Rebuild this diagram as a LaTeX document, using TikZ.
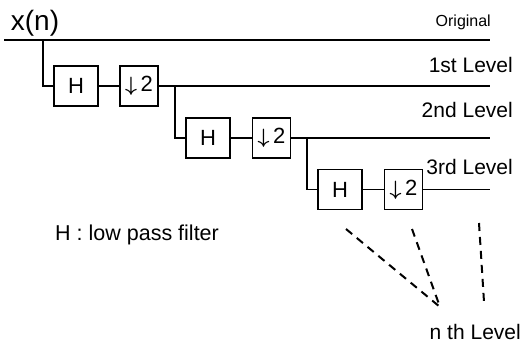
\documentclass[tikz,border=0pt]{standalone}
\usepackage{fontspec}
\setmainfont{Liberation Sans}
\usetikzlibrary{positioning}

\newcommand{\dsamp}{{\boldmath$\downarrow$}\,2}

\begin{document}
\begin{tikzpicture}[x=1pt, y=-1pt,
    filt/.style={draw, line width=1.2pt, minimum width=44pt, minimum height=40pt, inner sep=0pt, font=\fontsize{22}{22}\selectfont},
    dwn/.style={filt, minimum width=38pt},
    sig/.style={line width=1.3pt},
    lvl/.style={anchor=east, inner sep=0pt, font=\fontsize{21}{22}\selectfont},
    guide/.style={line width=2pt, dash pattern=on 8pt off 6pt}
]
\useasboundingbox (0,0) rectangle (526,344);

% === Entrada ===
\node[inner sep=0pt, font=\fontsize{28}{28}\selectfont] (xn) at (35,23) {x(n)};
\coordinate (o0) at (4,40);
\coordinate (o1) at (490,40);
\draw[line width=1.8pt] (o0) -- (o1);
\node[lvl, font=\fontsize{16}{18}\selectfont] (org) at (491,22) {Original};

% === Nivel 1 ===
\coordinate (t1) at (43,40);
\node[filt] (h1) at (76,86) {H};
\node[dwn] (d1) at (139,86) {\dsamp};
\coordinate (e1) at (490,86);
\draw[sig] (t1) |- (h1.west);
\draw[sig] (h1) -- (d1);
\draw[sig] (d1) -- (e1);
\node[lvl] (lv1) at (513,65) {1st Level};

% === Nivel 2 ===
\coordinate (t2) at (175,86);
\node[filt] (h2) at (208,138) {H};
\node[dwn] (d2) at (271.5,138) {\dsamp};
\coordinate (e2) at (490,138);
\draw[sig] (t2) |- (h2.west);
\draw[sig] (h2) -- (d2);
\draw[sig] (d2) -- (e2);
\node[lvl] (lv2) at (513,110) {2nd Level};

% === Nivel 3 ===
\coordinate (t3) at (307,138);
\node[filt] (h3) at (340,189.5) {H};
\node[dwn] (d3) at (403.5,189.5) {\dsamp};
\coordinate (e3) at (490,189.5);
\draw[sig] (t3) |- (h3.west);
\draw[sig] (h3) -- (d3);
\draw[sig] (d3) -- (e3);
\node[lvl] (lv3) at (513,167) {3rd Level};

% === Nivel n ===
\node[lvl] (lvn) at (521,332) {n th Level};
\coordinate (a0) at (346,229);
\coordinate (a1) at (440,307);
\coordinate (b0) at (412,229);
\coordinate (b1) at (440,307);
\coordinate (c0) at (479,223);
\coordinate (c1) at (484,302);
\draw[guide] (a0) -- (a1);
\draw[guide] (b0) -- (b1);
\draw[guide] (c0) -- (c1);

\node[anchor=west, inner sep=0pt, font=\fontsize{21.5}{22}\selectfont] (key) at (55,235) {H : low pass filter};

\end{tikzpicture}
\end{document}
